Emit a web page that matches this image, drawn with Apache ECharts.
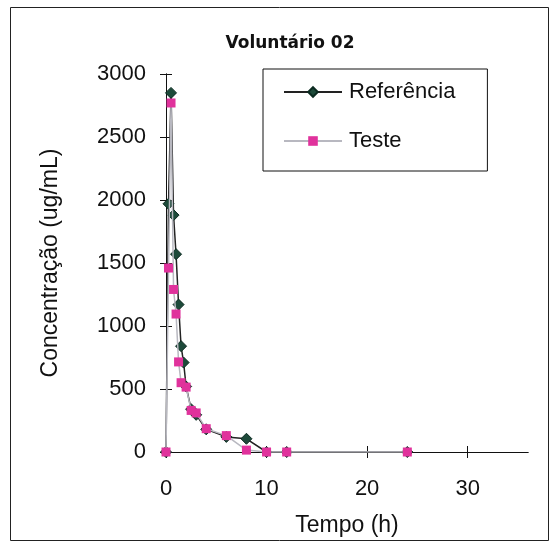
<!DOCTYPE html>
<html>
<head>
<meta charset="utf-8">
<script src="https://cdn.jsdelivr.net/npm/echarts@6/dist/echarts.min.js"></script>
<style>
  html, body { margin: 0; padding: 0; background: #fff; }
  #chart-container { width: 554px; height: 546px; }
</style>
</head>
<body>
<div id="chart-container"></div>
<script>
const refTimes = [0, 0.25, 0.5, 0.75, 1, 1.25, 1.5, 1.75, 2, 2.5, 3, 4, 6, 8, 10, 12, 24];
const refConc = [0, 1970, 2850, 1880, 1570, 1170, 840, 710, 520, 340, 295, 180, 120, 105, 0, 0, 0];
const testTimes = [0, 0.25, 0.5, 0.75, 1, 1.25, 1.5, 2, 2.5, 3, 4, 6, 8, 10, 12, 24];
const testConc = [0, 1460, 2770, 1290, 1095, 715, 550, 515, 330, 310, 185, 130, 15, 0, 0, 0];
const xTicks = [0, 10, 20, 30];

const font = '"Liberation Sans", Arial, sans-serif';
const pairs = (t, v) => t.map((x, i) => [x, v[i]]);

const dom = document.getElementById('chart-container');
const myChart = window.echarts.init(dom, null, { renderer: 'canvas' });

const xBase = {
  type: 'value', min: 0, max: 36,
  axisLine: { lineStyle: { color: '#111', width: 1 } },
  splitLine: { show: false },
};
const yBase = {
  type: 'value', min: 0, max: 3000, interval: 500,
  axisLine: { show: true, lineStyle: { color: '#111', width: 1 } },
  splitLine: { show: false },
};

const option = {
  animation: false,
  backgroundColor: '#fff',
  title: {
    text: 'Voluntário 02',
    left: 285,
    textAlign: 'center',
    top: 30,
    textStyle: { fontFamily: '"DejaVu Sans", sans-serif', fontSize: 17, fontWeight: 'bold', color: '#111' },
  },
  grid: { left: 166, top: 74, right: 26, bottom: 94 },
  legend: {
    orient: 'vertical',
    left: 263,
    top: 69,
    padding: [12, 32, 19, 20],
    itemGap: 27,
    itemWidth: 58,
    itemHeight: 12,
    borderColor: '#111',
    borderWidth: 1,
    textStyle: { fontFamily: font, fontSize: 22, color: '#111', padding: [0, 0, 0, 2] },
    data: ['Referência', 'Teste'],
  },
  xAxis: [
    {
      ...xBase,
      name: 'Tempo (h)',
      nameLocation: 'middle',
      nameGap: 62,
      nameTextStyle: { fontFamily: font, fontSize: 23, color: '#111' },
      axisTick: { customValues: xTicks, inside: false, length: 6, lineStyle: { color: '#111' } },
      axisLabel: { customValues: xTicks, margin: 26, fontFamily: font, fontSize: 22, color: '#111' },
    },
    {
      ...xBase,
      position: 'bottom',
      axisTick: { customValues: xTicks, inside: true, length: 6, lineStyle: { color: '#111' } },
      axisLabel: { show: false },
    },
  ],
  yAxis: [
    {
      ...yBase,
      name: 'Concentração (ug/mL)',
      nameLocation: 'middle',
      nameGap: 104,
      nameTextStyle: { fontFamily: font, fontSize: 23, color: '#111' },
      axisTick: { inside: false, length: 6, lineStyle: { color: '#111' } },
      axisLabel: { margin: 20, fontFamily: font, fontSize: 22, color: '#111', formatter: (v) => String(v) },
    },
    {
      ...yBase,
      position: 'left',
      axisTick: { inside: true, length: 6, lineStyle: { color: '#111' } },
      axisLabel: { show: false },
    },
  ],
  graphic: [
    {
      type: 'rect',
      shape: { x: 10.5, y: 7.5, width: 538, height: 533 },
      style: { fill: 'none', stroke: '#222', lineWidth: 1 },
      silent: true,
    },
  ],
  series: [
    {
      name: 'Referência',
      type: 'line',
      data: pairs(refTimes, refConc),
      symbol: 'diamond',
      symbolSize: 11,
      itemStyle: { color: '#1d4a3a', borderColor: '#0b2a20', borderWidth: 1 },
      lineStyle: { color: '#222', width: 1.5 },
      z: 2,
    },
    {
      name: 'Teste',
      type: 'line',
      data: pairs(testTimes, testConc),
      symbol: 'rect',
      symbolSize: 9,
      itemStyle: { color: '#e0329c' },
      lineStyle: { color: '#b8b8c0', width: 1.5 },
      z: 3,
    },
  ],
};
myChart.setOption(option);
</script>
</body>
</html>
